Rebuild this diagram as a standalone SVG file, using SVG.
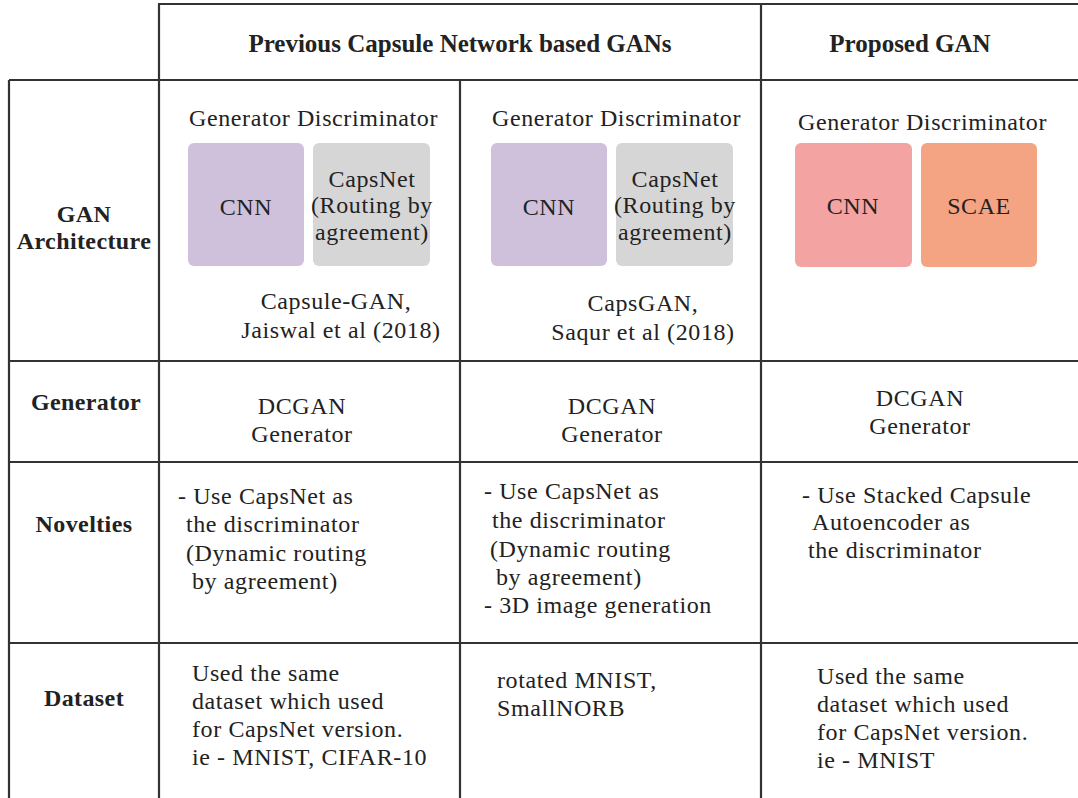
<svg xmlns="http://www.w3.org/2000/svg" width="1078" height="798" viewBox="0 0 1078 798">
<style>
text{font-family:'Liberation Serif','Times New Roman',Tinos,'DejaVu Serif',serif;fill:#222;}
.t{font-size:24px;letter-spacing:0.6px;}
.b{font-size:24px;font-weight:bold;letter-spacing:0.4px;}
.h{font-size:25px;font-weight:bold;}
.m{text-anchor:middle;}
.g{stroke:#333;stroke-width:2.2;fill:none;}
</style>
<rect width="1078" height="798" fill="#fff"/>
<g id="grid" class="g">
<line x1="158" y1="4" x2="1078" y2="4"/>
<line x1="9" y1="80" x2="1078" y2="80"/>
<line x1="9" y1="361" x2="1078" y2="361"/>
<line x1="9" y1="462" x2="1078" y2="462"/>
<line x1="9" y1="643" x2="1078" y2="643"/>
<line x1="9" y1="80" x2="9" y2="798"/>
<line x1="159" y1="4" x2="159" y2="798"/>
<line x1="460" y1="80" x2="460" y2="798"/>
<line x1="761" y1="4" x2="761" y2="798"/>
</g>
<g id="header-previous"><text class="h m" x="460" y="52" font-family="Liberation Serif">Previous Capsule Network based GANs</text></g>
<g id="header-proposed"><text class="h m" x="910" y="52" font-family="Liberation Serif">Proposed GAN</text></g>
<g id="label-arch"><text class="b m" x="84" y="222">GAN</text><text class="b m" x="84" y="249">Architecture</text></g>
<g id="label-generator"><text class="b m" x="86" y="410">Generator</text></g>
<g id="label-novelties"><text class="b m" x="84" y="532">Novelties</text></g>
<g id="label-dataset"><text class="b m" x="84" y="706">Dataset</text></g>
<g id="arch-1">
<text class="t" x="189" y="126">Generator Discriminator</text>
<rect x="188" y="143" width="116" height="123" rx="6" fill="#cfc1dc"/>
<rect x="313" y="143" width="117" height="123" rx="6" fill="#d7d6d6"/>
<text class="t m" x="246" y="215">CNN</text>
<text class="t m" x="372" y="187">CapsNet</text>
<text class="t m" x="372" y="213">(Routing by</text>
<text class="t m" x="372" y="240">agreement)</text>
<text class="t m" x="336" y="309">Capsule-GAN,</text>
<text class="t m" x="341" y="338">Jaiswal et al (2018)</text>
</g>
<g id="arch-2">
<text class="t" x="492" y="126">Generator Discriminator</text>
<rect x="491" y="143" width="116" height="123" rx="6" fill="#cfc1dc"/>
<rect x="616" y="143" width="117" height="123" rx="6" fill="#d7d6d6"/>
<text class="t m" x="549" y="215">CNN</text>
<text class="t m" x="675" y="187">CapsNet</text>
<text class="t m" x="675" y="213">(Routing by</text>
<text class="t m" x="675" y="240">agreement)</text>
<text class="t m" x="643" y="311">CapsGAN,</text>
<text class="t m" x="643" y="340">Saqur et al (2018)</text>
</g>
<g id="arch-3">
<text class="t" x="798" y="130">Generator Discriminator</text>
<rect x="795" y="143" width="117" height="124" rx="6" fill="#f4a3a3"/>
<rect x="921" y="143" width="116" height="124" rx="6" fill="#f4a383"/>
<text class="t m" x="853" y="214">CNN</text>
<text class="t m" x="979" y="214">SCAE</text>
</g>
<g id="gen-1"><text class="t m" x="302" y="414">DCGAN</text><text class="t m" x="302" y="442">Generator</text></g>
<g id="gen-2"><text class="t m" x="612" y="414">DCGAN</text><text class="t m" x="612" y="442">Generator</text></g>
<g id="gen-3"><text class="t m" x="920" y="406">DCGAN</text><text class="t m" x="920" y="434">Generator</text></g>
<g id="nov-1">
<text class="t" x="178" y="504">- Use CapsNet as</text>
<text class="t" x="186" y="532">the discriminator</text>
<text class="t" x="186" y="561">(Dynamic routing</text>
<text class="t" x="192" y="589">by agreement)</text>
</g>
<g id="nov-2">
<text class="t" x="484" y="499">- Use CapsNet as</text>
<text class="t" x="492" y="528">the discriminator</text>
<text class="t" x="490" y="557">(Dynamic routing</text>
<text class="t" x="496" y="585">by agreement)</text>
<text class="t" x="484" y="613">- 3D image generation</text>
</g>
<g id="nov-3">
<text class="t" x="802" y="503">- Use Stacked Capsule</text>
<text class="t" x="812" y="530">Autoencoder as</text>
<text class="t" x="808" y="558">the discriminator</text>
</g>
<g id="data-1">
<text class="t" x="192" y="681">Used the same</text>
<text class="t" x="192" y="709">dataset which used</text>
<text class="t" x="192" y="737">for CapsNet version.</text>
<text class="t" x="192" y="765">ie - MNIST, CIFAR-10</text>
</g>
<g id="data-2">
<text class="t" x="497" y="688">rotated MNIST,</text>
<text class="t" x="497" y="716">SmallNORB</text>
</g>
<g id="data-3">
<text class="t" x="817" y="684">Used the same</text>
<text class="t" x="817" y="712">dataset which used</text>
<text class="t" x="817" y="740">for CapsNet version.</text>
<text class="t" x="817" y="768">ie - MNIST</text>
</g>
</svg>
